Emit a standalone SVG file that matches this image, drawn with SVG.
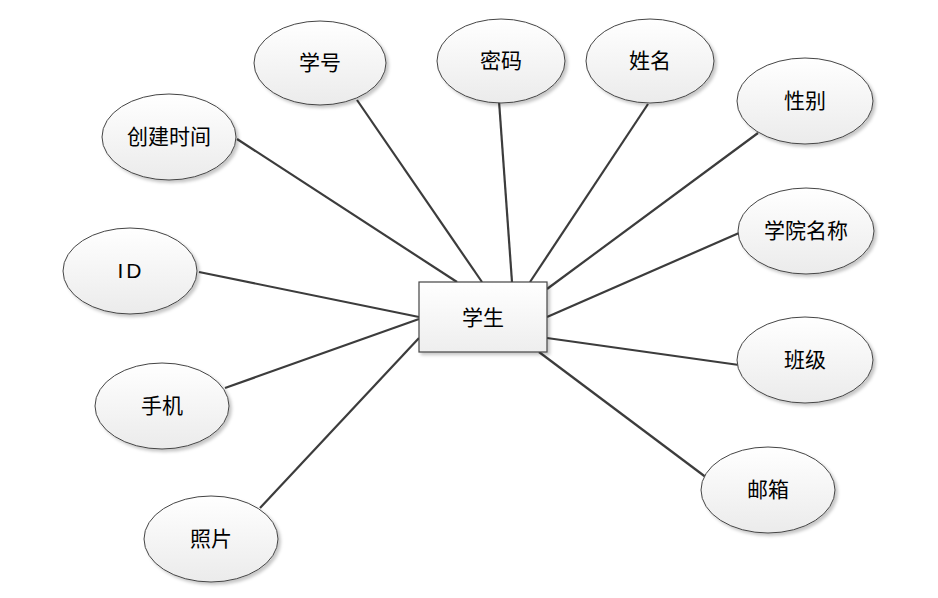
<svg xmlns="http://www.w3.org/2000/svg" width="938" height="598" viewBox="0 0 938 598">
<defs>
<linearGradient id="eg" x1="0" y1="0" x2="0" y2="1">
<stop offset="0" stop-color="#ffffff"/>
<stop offset="1" stop-color="#ebebeb"/>
</linearGradient>
<linearGradient id="rg" x1="0" y1="0" x2="0" y2="1">
<stop offset="0" stop-color="#ffffff"/>
<stop offset="1" stop-color="#eeeeee"/>
</linearGradient>
<filter id="sh" x="-10%" y="-10%" width="125%" height="130%">
<feDropShadow dx="2.5" dy="2.5" stdDeviation="1.5" flood-color="#000" flood-opacity="0.22"/>
</filter>
</defs>
<style>
.conn line{stroke:#3c3c3c;stroke-width:2.2;fill:none}
.attr ellipse{fill:url(#eg);stroke:#444;stroke-width:1;filter:url(#sh)}
.ent rect{fill:url(#rg);stroke:#444;stroke-width:1.2;filter:url(#sh)}
text{font-family:"Noto Sans CJK SC","Microsoft YaHei",sans-serif;font-size:21px;fill:#000;text-anchor:middle}
</style>
<rect width="938" height="598" fill="#fff"/>
<g id="connectors" class="conn">
<line x1="237" y1="139" x2="457" y2="282"/>
<line x1="357" y1="100" x2="482" y2="282"/>
<line x1="499" y1="101" x2="512" y2="282"/>
<line x1="648" y1="104" x2="530" y2="282"/>
<line x1="758" y1="133" x2="547" y2="289"/>
<line x1="739" y1="233" x2="547" y2="317"/>
<line x1="739" y1="365" x2="547" y2="338"/>
<line x1="707" y1="478" x2="539" y2="352"/>
<line x1="199" y1="272" x2="419" y2="317"/>
<line x1="225" y1="388" x2="419" y2="319"/>
<line x1="260" y1="508" x2="419" y2="338"/>
</g>
<g id="student" class="ent">
<rect x="419" y="282" width="128" height="70"/>
<text x="483" y="325" font-size="22">学生</text>
</g>
<g id="xuehao" class="attr"><ellipse cx="320" cy="63" rx="66" ry="42"/><text x="320" y="70">学号</text></g>
<g id="mima" class="attr"><ellipse cx="501" cy="61" rx="64" ry="42"/><text x="501" y="68">密码</text></g>
<g id="xingming" class="attr"><ellipse cx="650" cy="61" rx="64" ry="42"/><text x="650" y="68">姓名</text></g>
<g id="xingbie" class="attr"><ellipse cx="805" cy="101" rx="68" ry="43"/><text x="805" y="108">性别</text></g>
<g id="chuangjian" class="attr"><ellipse cx="169" cy="137" rx="67" ry="43"/><text x="169" y="144">创建时间</text></g>
<g id="xueyuan" class="attr"><ellipse cx="806" cy="231" rx="68" ry="43"/><text x="806" y="238">学院名称</text></g>
<g id="id" class="attr"><ellipse cx="130" cy="271" rx="67" ry="43"/><text x="131" y="278" style="font-family:'Liberation Sans',sans-serif;letter-spacing:3px">ID</text></g>
<g id="banji" class="attr"><ellipse cx="805" cy="360" rx="68" ry="43"/><text x="805" y="367">班级</text></g>
<g id="shouji" class="attr"><ellipse cx="162" cy="406" rx="67" ry="43"/><text x="162" y="413">手机</text></g>
<g id="youxiang" class="attr"><ellipse cx="768" cy="490" rx="67" ry="43"/><text x="768" y="497">邮箱</text></g>
<g id="zhaopian" class="attr"><ellipse cx="211" cy="539" rx="67" ry="43"/><text x="211" y="546">照片</text></g>
</svg>
